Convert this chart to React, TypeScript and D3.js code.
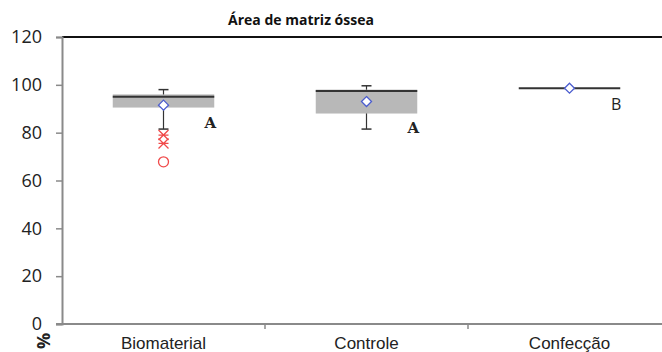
import React, { useRef, useEffect } from 'react';
import * as d3 from 'd3';

const categories = ['Biomaterial', 'Controle', 'Confecção'];
const q1 = [90.5, 88, 98.6];
const q3 = [96, 98, 98.6];
const medians = [95, 97.4, 98.6];
const whiskerLow = [81.5, 81.5, 98.6];
const whiskerHigh = [98, 99.6, 98.6];
const means = [91.5, 93, 98.6];
const letters = ['A', 'A', 'B'];
const letterLevels = [82, 80, 89.3];
const starOutliers = [{ cat: 'Biomaterial', v: 79 }, { cat: 'Biomaterial', v: 75.5 }];
const circleOutliers = [{ cat: 'Biomaterial', v: 67.8 }];
const yTicks = [0, 20, 40, 60, 80, 100, 120];

const W = 662;
const H = 352;

const App = () => {
  const ref = useRef(null);

  useEffect(() => {
    const margin = { top: 37, left: 62, bottom: 28 };
    const svg = d3.select(ref.current);
    svg.selectAll('*').remove();

    const x = d3.scaleBand().domain(categories).range([margin.left, 671]).padding(0);
    const y = d3.scaleLinear().domain([0, 120]).range([H - margin.bottom, margin.top]);
    const bw = x.bandwidth() * 0.5;
    const axisCol = '#8a8a8a';

    // top border
    svg.append('line')
      .attr('x1', margin.left).attr('x2', W)
      .attr('y1', y(120)).attr('y2', y(120))
      .attr('stroke', '#111').attr('stroke-width', 2);

    // y axis
    const yAxis = svg.append('g')
      .attr('transform', `translate(${margin.left},0)`)
      .call(d3.axisLeft(y).tickValues(yTicks).tickSize(6).tickPadding(14));
    yAxis.select('.domain').attr('stroke', axisCol).attr('stroke-width', 2);
    yAxis.selectAll('.tick line').attr('stroke', axisCol).attr('stroke-width', 1.5);
    yAxis.selectAll('.tick text')
      .attr('fill', '#222')
      .style('font-family', '"Open Sans", sans-serif')
      .style('font-size', '18px');

    // x axis
    svg.append('line')
      .attr('x1', margin.left - 6).attr('x2', W)
      .attr('y1', y(0)).attr('y2', y(0))
      .attr('stroke', axisCol).attr('stroke-width', 2);
    categories.slice(1).forEach(c => {
      svg.append('line')
        .attr('x1', x(c)).attr('x2', x(c))
        .attr('y1', y(0)).attr('y2', y(0) + 5)
        .attr('stroke', axisCol).attr('stroke-width', 1.5);
    });
    svg.selectAll('.xlab')
      .data(categories)
      .enter()
      .append('text')
      .attr('x', d => x(d) + x.bandwidth() / 2)
      .attr('y', H - 3)
      .attr('text-anchor', 'middle')
      .attr('fill', '#222')
      .style('font-family', '"Liberation Sans", Arial, sans-serif')
      .style('font-size', '17px')
      .text(d => d);

    // % label
    svg.append('text')
      .attr('transform', `translate(50,341) rotate(-90)`)
      .attr('text-anchor', 'middle')
      .attr('fill', '#222')
      .style('font-family', '"Open Sans", sans-serif')
      .style('font-size', '18px')
      .style('font-weight', 'bold')
      .text('%');

    // title
    svg.append('text')
      .attr('x', 301).attr('y', 25)
      .attr('text-anchor', 'middle')
      .attr('fill', '#111')
      .style('font-family', '"Open Sans", sans-serif')
      .style('font-size', '14px')
      .style('font-weight', 'bold')
      .text('Área de matriz óssea');

    categories.forEach((c, i) => {
      const cx = x(c) + x.bandwidth() / 2;
      // whiskers
      if (whiskerHigh[i] > whiskerLow[i]) {
        svg.append('line')
          .attr('x1', cx).attr('x2', cx)
          .attr('y1', y(whiskerHigh[i])).attr('y2', y(whiskerLow[i]))
          .attr('stroke', '#333').attr('stroke-width', 1.2);
        [whiskerHigh[i], whiskerLow[i]].forEach(v => {
          svg.append('line')
            .attr('x1', cx - 5).attr('x2', cx + 5)
            .attr('y1', y(v)).attr('y2', y(v))
            .attr('stroke', '#333').attr('stroke-width', 1.5);
        });
      }
      // box
      if (q3[i] > q1[i]) {
        svg.append('rect')
          .attr('x', cx - bw / 2).attr('width', bw)
          .attr('y', y(q3[i])).attr('height', y(q1[i]) - y(q3[i]))
          .attr('fill', '#b8b8b8');
      }
      // median
      svg.append('line')
        .attr('x1', cx - bw / 2).attr('x2', cx + bw / 2)
        .attr('y1', y(medians[i])).attr('y2', y(medians[i]))
        .attr('stroke', '#333').attr('stroke-width', 2);
      // mean diamond
      const m = y(means[i]);
      svg.append('path')
        .attr('d', `M${cx},${m - 5}L${cx + 5},${m}L${cx},${m + 5}L${cx - 5},${m}Z`)
        .attr('fill', '#fff')
        .attr('stroke', '#4a5ccf').attr('stroke-width', 1.3);
      // letter
      svg.append('text')
        .attr('x', cx + bw / 2 - 4)
        .attr('y', y(letterLevels[i]))
        .attr('text-anchor', 'middle')
        .attr('fill', '#222')
        .style('font-family', letters[i] === 'A' ? '"DejaVu Serif", serif' : '"Open Sans", sans-serif')
        .style('font-size', letters[i] === 'A' ? '15px' : '16px')
        .style('font-weight', letters[i] === 'A' ? 'bold' : 'normal')
        .text(letters[i]);
    });

    // outliers
    starOutliers.forEach(o => {
      const cx = x(o.cat) + x.bandwidth() / 2;
      const cy = y(o.v);
      const s = 5;
      svg.append('path')
        .attr('d', `M${cx - s},${cy - s}L${cx + s},${cy + s}M${cx - s},${cy + s}L${cx + s},${cy - s}M${cx - s},${cy}L${cx + s},${cy}`)
        .attr('stroke', '#f04a4a').attr('stroke-width', 1.3).attr('fill', 'none');
    });
    circleOutliers.forEach(o => {
      svg.append('circle')
        .attr('cx', x(o.cat) + x.bandwidth() / 2)
        .attr('cy', y(o.v))
        .attr('r', 5)
        .attr('fill', 'none')
        .attr('stroke', '#f04a4a').attr('stroke-width', 1.3);
    });
  }, []);

  return (
    <div style={{ position: 'absolute', left: 0, top: 0, background: '#fff' }}>
      <svg ref={ref} width={W} height={H}></svg>
    </div>
  );
};

export default App;
